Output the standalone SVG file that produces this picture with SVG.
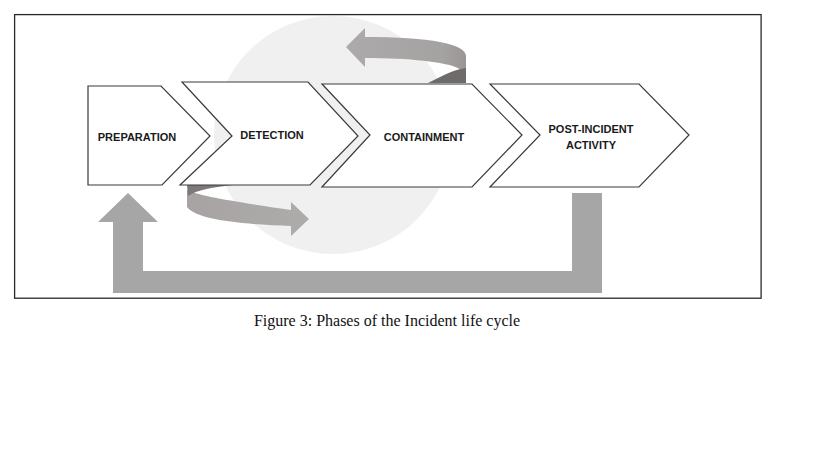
<svg xmlns="http://www.w3.org/2000/svg" width="819" height="460" viewBox="0 0 819 460">
<defs>
<style>
.chev{fill:#ffffff;stroke:#3a3a3a;stroke-width:1.2;stroke-linejoin:miter}
.lbl{font-family:"Liberation Sans",Arial,sans-serif;font-weight:bold;font-size:11px;fill:#1a1a1a;text-anchor:middle}
.arr{fill:#a6a6a6}
.rib{fill:url(#ribg)}
.ribd{fill:#7d7979}
.cap{font-family:"Liberation Serif","DejaVu Serif",serif;font-size:16px;fill:#111;text-anchor:middle}
</style>
<linearGradient id="ribg" x1="0" y1="0" x2="1" y2="0">
<stop offset="0" stop-color="#a7a3a3"/>
<stop offset="1" stop-color="#aeabab"/>
</linearGradient>
<linearGradient id="ribg2" x1="0" y1="0" x2="1" y2="0">
<stop offset="0" stop-color="#acaaaa"/>
<stop offset="0.8" stop-color="#a5a2a2"/>
<stop offset="1" stop-color="#9a9696"/>
</linearGradient>
</defs>
<rect x="0" y="0" width="819" height="460" fill="#ffffff"/>
<rect x="14.6" y="14.6" width="746.5" height="283.6" fill="#ffffff" stroke="#2a2a2a" stroke-width="1.3"/>
<circle cx="333" cy="135" r="119" fill="#f0f0f0"/>
<g id="connectors">
<path id="feedback-arrow" class="arr" d="M572,193 L602,193 L602,293 L113,293 L113,222 L98,222 L128,193 L158,222 L143,222 L143,271 L572,271 Z"/>
<g id="loop-bottom">
<path class="rib" d="M187,190 C200,196 230,201 291,210 L291,202 L309,219 L291,236 L291,226 C235,224 196,219 187,207 Z"/>
<path class="ribd" d="M187,185 L234,185 C214,187 196,190 188,196 Z"/>
</g>
<g id="loop-top">
<path style="fill:url(#ribg2)" d="M365,28 L346,47 L365,67 L365,58 C410,58 445,62 458,68 L466,76 L466,56 C466,44 430,37 365,37 Z"/>
<path class="ribd" d="M428,83 C440,77 452,70 466,68 L466,83 Z" style="fill:#6f6b6b"/>
</g>
</g>
<g id="preparation">
<path class="chev" d="M88,86 L161,86 L210,136 L162,185 L88,185 Z"/>
<text class="lbl" x="137" y="140.5">PREPARATION</text>
</g>
<g id="detection">
<path class="chev" d="M182,82 L308,82 L358,136 L310,185 L180,185 L232,136 Z"/>
<text class="lbl" x="272" y="139">DETECTION</text>
</g>
<g id="containment">
<path class="chev" d="M322,84 L472,84 L522,135 L472,187 L322,187 L370,135 Z"/>
<text class="lbl" x="424" y="140.5">CONTAINMENT</text>
</g>
<g id="post-incident">
<path class="chev" d="M490,84 L639,84 L689,135 L639,187 L490,187 L540,135 Z"/>
<text class="lbl" x="591" y="133">POST-INCIDENT</text>
<text class="lbl" x="591" y="149">ACTIVITY</text>
</g>
<text class="cap" x="387" y="326">Figure 3: Phases of the Incident life cycle</text>
</svg>
